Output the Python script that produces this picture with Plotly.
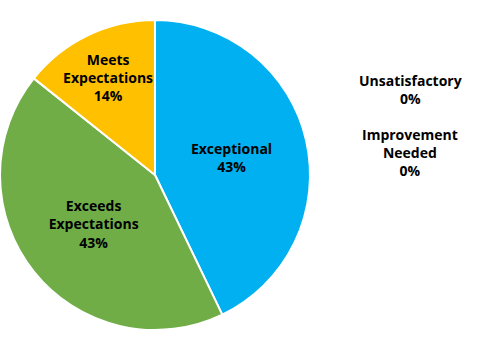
import plotly.graph_objects as go

categories = ["Exceptional", "Exceeds<br>Expectations", "Meets<br>Expectations", "Unsatisfactory", "Improvement<br>Needed"]
values = [3, 3, 1, 0, 0]
colors = ["#00B0F0", "#70AD47", "#FFC000", "#A5A5A5", "#ED7D31"]

FONT = dict(family="Open Sans", size=14, color="black")

# zero-value slices get no inside text; they are listed beside the pie instead
templates = ["<b>%{label}<br>%{percent:.0%}</b>" if v > 0 else "" for v in values]

fig = go.Figure(go.Pie(
    labels=categories,
    values=values,
    sort=False,
    direction="clockwise",
    rotation=0,
    marker=dict(colors=colors, line=dict(color="white", width=2)),
    texttemplate=templates,
    textposition="inside",
    insidetextorientation="horizontal",
    textfont=FONT,
    hoverinfo="label+percent",
    domain=dict(x=[0, 310 / 492], y=[16 / 346, 326 / 346]),
    showlegend=False,
))

zero_notes = [(c, v) for c, v in zip(categories, values) if v == 0]
y_positions = [1 - 90 / 346, 1 - 153 / 346]
for (c, v), y in zip(zero_notes, y_positions):
    fig.add_annotation(
        text=f"<b>{c}<br>{v}%</b>", x=410 / 492, y=y, xref="paper", yref="paper",
        xanchor="center", yanchor="middle",
        showarrow=False, font=FONT, align="center",
    )

fig.update_layout(
    width=492, height=346,
    margin=dict(l=0, r=0, t=0, b=0),
    paper_bgcolor="white", plot_bgcolor="white",
    uniformtext=dict(minsize=14, mode="show"),
)
fig.write_html("out.html")
